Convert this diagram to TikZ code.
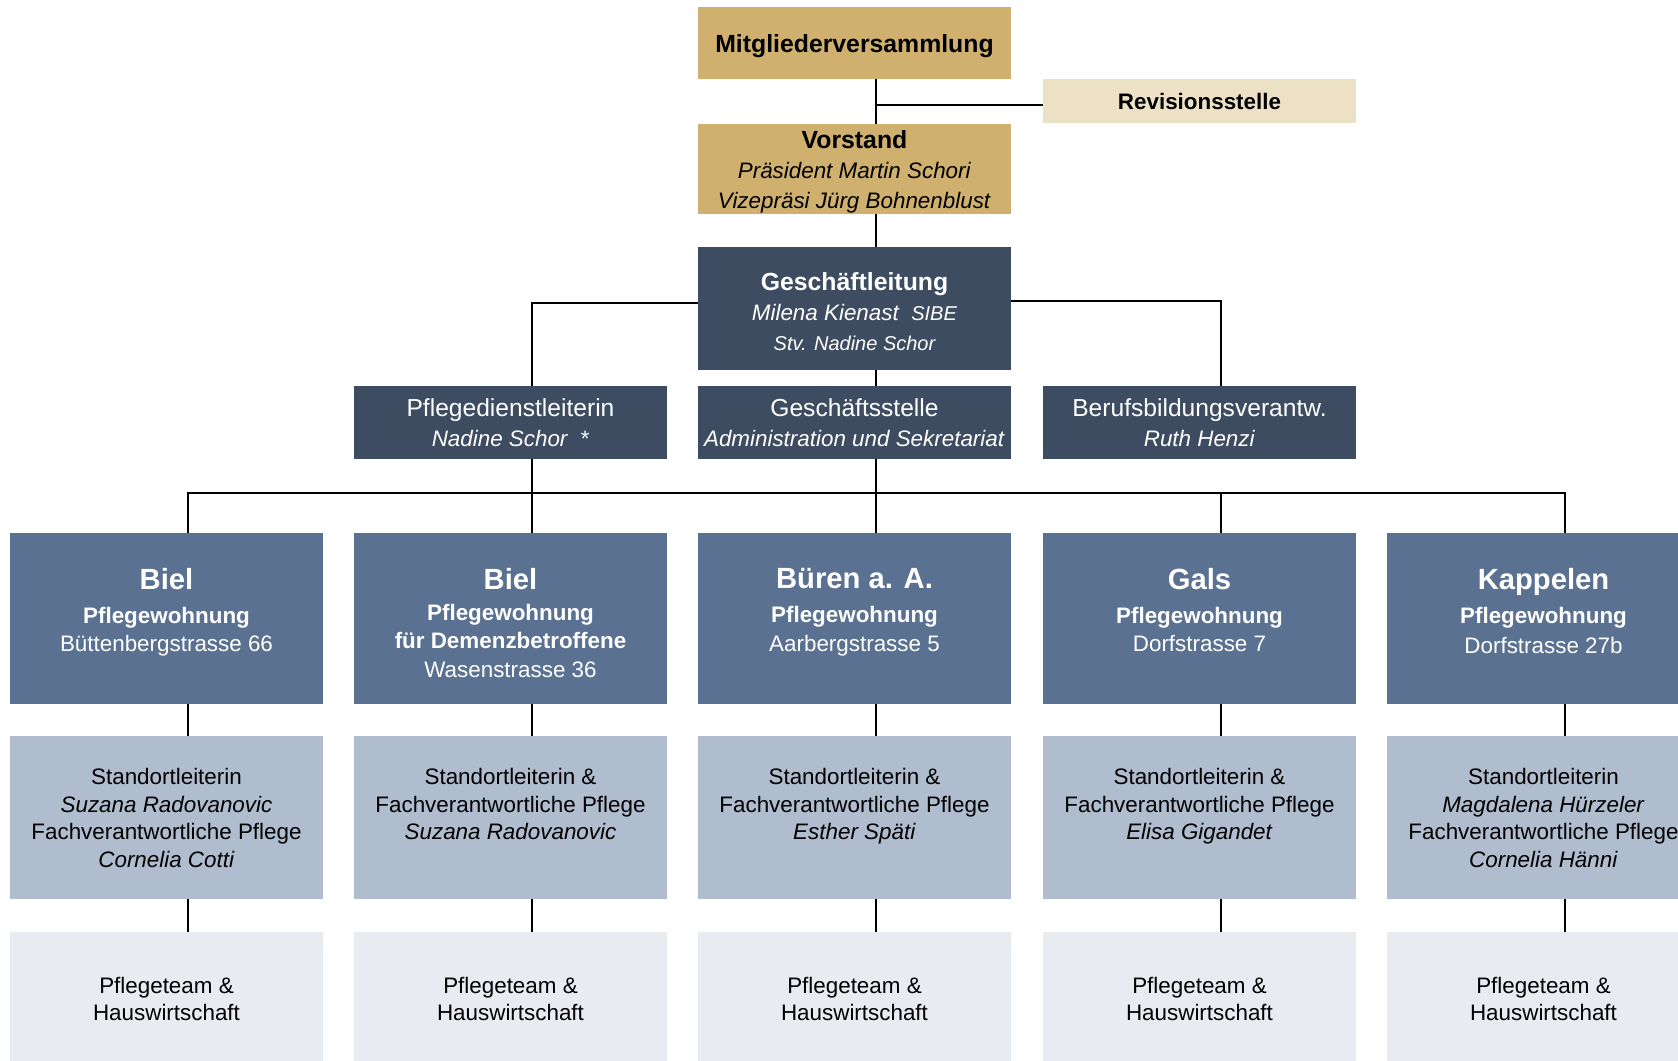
\documentclass[tikz,border=0pt]{standalone}
\usepackage{fontspec}
\setmainfont{Liberation Sans}
\usetikzlibrary{positioning}

\definecolor{gold}{HTML}{CFB06F}
\definecolor{beige}{HTML}{EDE1C5}
\definecolor{navy}{HTML}{3D4C61}
\definecolor{steel}{HTML}{5A7191}
\definecolor{pale}{HTML}{B0BDCF}
\definecolor{mist}{HTML}{E8EBF0}

\newcommand{\ortname}[1]{{\fontsize{14.6}{16}\selectfont\bfseries #1}}
\newcommand{\chef}[1]{{\fontsize{12.4}{15}\selectfont\bfseries\rule{0pt}{12pt}#1}}
\newcommand{\amt}[1]{{\fontsize{12.3}{15}\selectfont #1}}

\tikzset{
  box/.style={rectangle, inner sep=0pt, minimum width=156.5pt, align=center,
    font=\fontsize{11.2}{15}\selectfont},
  goldbox/.style={box, fill=gold},
  navybox/.style={box, fill=navy, text=white},
  locbox/.style={box, fill=steel, minimum height=85.5pt},
  staffbox/.style={box, fill=pale, minimum height=81.5pt},
  teambox/.style={box, fill=mist, minimum height=67pt, font=\fontsize{11.2}{13.4}\selectfont},
  loctext/.style={align=center, inner sep=0pt, text=white, font=\fontsize{11.2}{14.2}\selectfont},
  stafftext/.style={align=center, inner sep=0pt, font=\fontsize{11.2}{13.9}\selectfont},
  link/.style={draw=black, line width=1pt},
}

\begin{document}
\begin{tikzpicture}[x=0.5pt,y=0.5pt]
  \useasboundingbox (0,0) rectangle (1678,-1061);

  % Verein
  \node [goldbox, minimum height=36pt] (mv) at (854.5,-43) {\chef{Mitgliederversammlung}};
  \node [box, fill=beige, minimum height=22pt] (rev) at (1199.5,-101) {\textbf{Revisionsstelle}};
  \node [goldbox, minimum height=45pt] (vs) at (854.5,-169)
    {\chef{Vorstand}\\ \textit{Präsident Martin Schori}\\ \textit{Vizepräsi Jürg Bohnenblust}};

  % Leitung
  \node [navybox, minimum height=61.5pt] (gl) at (854.5,-308.5)
    {\chef{Geschäftleitung}\\ \textit{Milena Kienast~~{\fontsize{10}{12}\selectfont SIBE}}\\
     {\fontsize{10}{12}\selectfont\itshape Stv. Nadine Schor}};
  \node [navybox, minimum height=36.5pt] (pd) at (510.5,-422.5)
    {\amt{Pflegedienstleiterin}\\ \textit{Nadine Schor~~*}};
  \node [navybox, minimum height=36.5pt] (gs) at (854.5,-422.5)
    {\amt{Geschäftsstelle}\\ \textit{Administration und Sekretariat}};
  \node [navybox, minimum height=36.5pt] (bb) at (1199.5,-422.5)
    {\amt{Berufsbildungsverantw.}\\ \textit{Ruth Henzi}};

  % Standorte
  \node [locbox] (biel1) at (166.5,-618.5) {};
  \node [locbox] (biel2) at (510.5,-618.5) {};
  \node [locbox] (bueren) at (854.5,-618.5) {};
  \node [locbox] (gals) at (1199.5,-618.5) {};
  \node [locbox] (kap) at (1543.5,-618.5) {};
  \node [loctext, anchor=north] (biel1t) at ([yshift=-17.5pt]biel1.north)
    {\ortname{Biel}\\[3pt] \textbf{Pflegewohnung}\\ Büttenbergstrasse 66};
  \node [loctext, anchor=north] (biel2t) at ([yshift=-17.5pt]biel2.north)
    {\ortname{Biel}\\[1.5pt] \textbf{Pflegewohnung}\\ \textbf{für Demenzbetroffene}\\ Wasenstrasse 36};
  \node [loctext, anchor=north] (buerent) at ([yshift=-17.5pt]bueren.north)
    {\ortname{Büren a. A.}\\[3pt] \textbf{Pflegewohnung}\\ Aarbergstrasse 5};
  \node [loctext, anchor=north] (galst) at ([yshift=-17.5pt]gals.north)
    {\ortname{Gals}\\[3pt] \textbf{Pflegewohnung}\\ Dorfstrasse 7};
  \node [loctext, anchor=north] (kapt) at ([yshift=-17.5pt]kap.north)
    {\ortname{Kappelen}\\[3pt] \textbf{Pflegewohnung}\\[1pt] Dorfstrasse 27b};

  % Standortleitung
  \node [staffbox] (biel1s) at (166.5,-817.5) {};
  \node [staffbox] (biel2s) at (510.5,-817.5) {};
  \node [staffbox] (buerens) at (854.5,-817.5) {};
  \node [staffbox] (galss) at (1199.5,-817.5) {};
  \node [staffbox] (kaps) at (1543.5,-817.5) {};
  \node [stafftext, anchor=north] at ([yshift=-16pt]biel1s.north) (biel1st)
    {Standortleiterin\\ \textit{Suzana Radovanovic}\\ Fachverantwortliche Pflege\\ \textit{Cornelia Cotti}};
  \node [stafftext, anchor=north] at ([yshift=-16pt]biel2s.north) (biel2st)
    {Standortleiterin \&\\ Fachverantwortliche Pflege\\ \textit{Suzana Radovanovic}};
  \node [stafftext, anchor=north] at ([yshift=-16pt]buerens.north) (buerenst)
    {Standortleiterin \&\\ Fachverantwortliche Pflege\\ \textit{Esther Späti}};
  \node [stafftext, anchor=north] at ([yshift=-16pt]galss.north) (galsst)
    {Standortleiterin \&\\ Fachverantwortliche Pflege\\ \textit{Elisa Gigandet}};
  \node [stafftext, anchor=north] at ([yshift=-16pt]kaps.north) (kapst)
    {Standortleiterin\\ \textit{Magdalena Hürzeler}\\ Fachverantwortliche Pflege\\ \textit{Cornelia Hänni}};

  % Teams
  \node [teambox] (biel1p) at (166.5,-999) {Pflegeteam \&\\ Hauswirtschaft};
  \node [teambox] (biel2p) at (510.5,-999) {Pflegeteam \&\\ Hauswirtschaft};
  \node [teambox] (buerenp) at (854.5,-999) {Pflegeteam \&\\ Hauswirtschaft};
  \node [teambox] (galsp) at (1199.5,-999) {Pflegeteam \&\\ Hauswirtschaft};
  \node [teambox] (kapp) at (1543.5,-999) {Pflegeteam \&\\ Hauswirtschaft};

  % Linien
  \draw [link] ([xshift=10.5pt]mv.south) -- ([xshift=10.5pt]vs.north);
  \draw [link] ([yshift=-2pt]rev.west) -- ++(-84pt,0);
  \draw [link] ([xshift=10.5pt]vs.south) -- ([xshift=10.5pt]gl.north);
  \draw [link] ([yshift=2.75pt]gl.west) -| ([xshift=10.5pt]pd.north);
  \draw [link] ([yshift=3.75pt]gl.east) -| ([xshift=10.5pt]bb.north);
  \draw [link] ([xshift=10.5pt]gl.south) -- ([xshift=10.5pt]gs.north);
  \draw [link] ([xshift=10.5pt]biel1.north) -- ++(0,20pt) -| ([xshift=10.5pt]kap.north);
  \draw [link] ([xshift=10.5pt]pd.south) -- ([xshift=10.5pt]biel2.north);
  \draw [link] ([xshift=10.5pt]gs.south) -- ([xshift=10.5pt]bueren.north);
  \draw [link] ([xshift=10.5pt]gals.north) -- ++(0,20pt);

  \draw [link] ([xshift=10.5pt]biel1.south) -- ([xshift=10.5pt]biel1s.north)
    ([xshift=10.5pt]biel1s.south) -- ([xshift=10.5pt]biel1p.north);
  \draw [link] ([xshift=10.5pt]biel2.south) -- ([xshift=10.5pt]biel2s.north)
    ([xshift=10.5pt]biel2s.south) -- ([xshift=10.5pt]biel2p.north);
  \draw [link] ([xshift=10.5pt]bueren.south) -- ([xshift=10.5pt]buerens.north)
    ([xshift=10.5pt]buerens.south) -- ([xshift=10.5pt]buerenp.north);
  \draw [link] ([xshift=10.5pt]gals.south) -- ([xshift=10.5pt]galss.north)
    ([xshift=10.5pt]galss.south) -- ([xshift=10.5pt]galsp.north);
  \draw [link] ([xshift=10.5pt]kap.south) -- ([xshift=10.5pt]kaps.north)
    ([xshift=10.5pt]kaps.south) -- ([xshift=10.5pt]kapp.north);
\end{tikzpicture}
\end{document}
